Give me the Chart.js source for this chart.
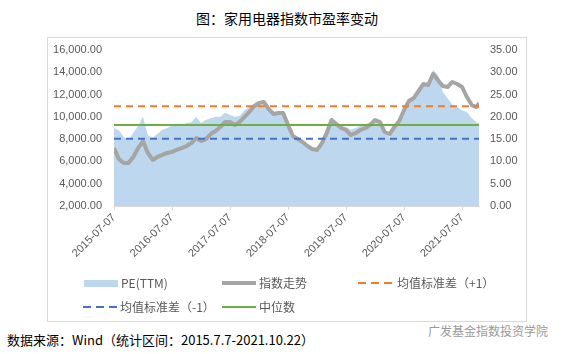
<!DOCTYPE html>
<html>
<head>
<meta charset="utf-8">
<script src="https://cdn.jsdelivr.net/npm/chart.js@4/dist/chart.umd.min.js"></script>
<style>
body { margin: 0; width: 565px; height: 354px; background: #fff; position: relative; overflow: hidden; font-family: "Noto Sans CJK SC", sans-serif; }
#frame { position: absolute; left: 47px; top: 37px; width: 478px; height: 283px; border: 1px solid #D9D9D9; }
#chart { position: absolute; left: 0; top: 0; }
.title { position: absolute; left: 196px; top: 8px; font-size: 14px; color: #000; white-space: nowrap; }
.source { position: absolute; left: 7px; top: 330px; font-size: 13px; color: #000; white-space: nowrap; }
.mark { position: absolute; left: 428px; top: 322px; font-size: 12px; color: #9a9a9a; white-space: nowrap; }
.sw { position: absolute; }
.lt { position: absolute; font-size: 12px; color: #595959; white-space: nowrap; line-height: 16px; }
</style>
</head>
<body>
<div id="frame"></div>
<div class="title">图：家用电器指数市盈率变动</div>
<canvas id="chart" width="565" height="280"></canvas>

<!-- 图例 -->
<div class="sw" style="left:84px;top:280px;width:34px;height:7px;background:#BDD7EE"></div>
<div class="lt" style="left:121px;top:275px">PE(TTM)</div>
<div class="sw" style="left:222px;top:281px;width:34px;height:4px;background:#A5A5A5"></div>
<div class="lt" style="left:259px;top:275px">指数走势</div>
<div class="sw" style="left:358px;top:282px;width:36px;height:2px;background:repeating-linear-gradient(90deg,#ED7D31 0 8px,transparent 8px 13px)"></div>
<div class="lt" style="left:397px;top:275px">均值标准差（+1）</div>
<div class="sw" style="left:83px;top:306px;width:36px;height:2px;background:repeating-linear-gradient(90deg,#4472C4 0 8px,transparent 8px 13px)"></div>
<div class="lt" style="left:120px;top:299px">均值标准差（-1）</div>
<div class="sw" style="left:222px;top:306px;width:34px;height:2px;background:#70AD47"></div>
<div class="lt" style="left:259px;top:299px">中位数</div>

<div class="mark">广发基金指数投资学院</div>
<div class="source">数据来源：Wind（统计区间：2015.7.7-2021.10.22）</div>

<script>
// 日期（每月取一个点）
const dates = [
  '2015-07-07','2015-08-07','2015-09-07','2015-10-07','2015-11-07','2015-12-07',
  '2016-01-07','2016-02-07','2016-03-07','2016-04-07','2016-05-07','2016-06-07',
  '2016-07-07','2016-08-07','2016-09-07','2016-10-07','2016-11-07','2016-12-07',
  '2017-01-07','2017-02-07','2017-03-07','2017-04-07','2017-05-07','2017-06-07',
  '2017-07-07','2017-08-07','2017-09-07','2017-10-07','2017-11-07','2017-12-07',
  '2018-01-07','2018-02-07','2018-03-07','2018-04-07','2018-05-07','2018-06-07',
  '2018-07-07','2018-08-07','2018-09-07','2018-10-07','2018-11-07','2018-12-07',
  '2019-01-07','2019-02-07','2019-03-07','2019-04-07','2019-05-07','2019-06-07',
  '2019-07-07','2019-08-07','2019-09-07','2019-10-07','2019-11-07','2019-12-07',
  '2020-01-07','2020-02-07','2020-03-07','2020-04-07','2020-05-07','2020-06-07',
  '2020-07-07','2020-08-07','2020-09-07','2020-10-07','2020-11-07','2020-12-07',
  '2021-01-07','2021-02-07','2021-03-07','2021-04-07','2021-05-07','2021-06-07',
  '2021-07-07','2021-08-07','2021-09-07','2021-10-07','2021-10-22'
];

// 指数走势（左轴）
const indexValues = [
  7200, 6220, 5860, 5860, 6400, 7200, 7830, 6760, 6130, 6400, 6580, 6760,
  6850, 7030, 7200, 7380, 7650, 8100, 7830, 8010, 8460, 8730, 9090, 9540,
  9540, 9270, 9540, 9990, 10440, 10970, 11240, 11330, 10700, 10260, 10350, 10350,
  9270, 8280, 8010, 7740, 7380, 7120, 7030, 7650, 8550, 9720, 9360, 9000,
  8820, 8370, 8550, 8820, 9000, 9270, 9720, 9540, 8640, 8460, 9090, 9630,
  10620, 11420, 11690, 12320, 12950, 12860, 13850, 13310, 12770, 12680, 13130, 12950,
  12680, 11780, 11060, 10880, 11240
];

// PE(TTM)（右轴）
const peValues = [
  17.5, 17.0, 15.5, 14.8, 16.4, 18.0, 20.0, 15.9, 15.3, 16.2, 17.1, 17.5,
  18.0, 18.2, 18.2, 18.6, 18.8, 20.0, 18.6, 19.3, 19.7, 20.0, 20.0, 20.9,
  20.4, 20.0, 20.2, 21.5, 22.2, 22.6, 22.8, 22.2, 21.5, 20.6, 21.1, 20.9,
  18.0, 15.3, 14.8, 14.1, 13.5, 12.8, 12.6, 14.8, 17.5, 19.7, 18.4, 18.0,
  17.7, 17.1, 17.5, 18.0, 18.4, 18.8, 19.5, 19.1, 16.6, 15.5, 18.0, 19.5,
  21.5, 23.6, 24.5, 26.0, 27.4, 27.8, 30.5, 29.4, 25.6, 24.2, 22.7, 22.2,
  21.5, 21.1, 19.7, 18.8, 18.5
];

// 均值±标准差、中位数（右轴）
const peUpper = 22.4;
const peLower = 15.1;
const peMedian = 18.2;

// 横轴刻度
const tickLabels = ['2015-07-07','2016-07-07','2017-07-07','2018-07-07','2019-07-07','2020-07-07','2021-07-07'];

// 日期 -> 距 2015-07-07 的月数
function monthPos(s) {
  const [y, m, d] = s.split('-').map(Number);
  return (y - 2015) * 12 + (m - 7) + (d - 7) / 30;
}
const xs = dates.map(monthPos);
const xMax = xs[xs.length - 1];
const tickPos = tickLabels.map(monthPos);

const flat = v => [{ x: 0, y: v }, { x: xMax, y: v }];
const tickFont = { family: 'Liberation Sans', size: 11 };

new Chart(document.getElementById('chart'), {
  type: 'line',
  data: {
    datasets: [
      {
        label: 'PE(TTM)',
        data: xs.map((x, i) => ({ x, y: peValues[i] })),
        yAxisID: 'y1',
        backgroundColor: '#BDD7EE',
        borderWidth: 0,
        fill: 'origin',
        pointRadius: 0,
        order: 5,
      },
      {
        label: '指数走势',
        data: xs.map((x, i) => ({ x, y: indexValues[i] })),
        yAxisID: 'y',
        borderColor: '#A5A5A5',
        borderWidth: 4,
        borderJoinStyle: 'round',
        pointRadius: 0,
        order: 4,
      },
      {
        label: '均值标准差（+1）',
        data: flat(peUpper),
        yAxisID: 'y1',
        borderColor: '#ED7D31',
        borderWidth: 2,
        borderDash: [7, 5],
        pointRadius: 0,
        order: 3,
      },
      {
        label: '均值标准差（-1）',
        data: flat(peLower),
        yAxisID: 'y1',
        borderColor: '#4472C4',
        borderWidth: 2,
        borderDash: [7, 5],
        pointRadius: 0,
        order: 2,
      },
      {
        label: '中位数',
        data: flat(peMedian),
        yAxisID: 'y1',
        borderColor: '#70AD47',
        borderWidth: 2,
        pointRadius: 0,
        order: 1,
      },
    ],
  },
  options: {
    responsive: false,
    animation: false,
    layout: { padding: { left: 0, right: 0, top: 50, bottom: 0 } },
    plugins: { legend: { display: false }, tooltip: { enabled: false } },
    scales: {
      x: {
        type: 'linear',
        min: 0,
        max: xMax,
        afterBuildTicks: s => { s.ticks = tickPos.map(v => ({ value: v })); },
        afterFit: s => { s.height = 74; },
        ticks: {
          autoSkip: false,
          minRotation: 45,
          maxRotation: 45,
          padding: 1,
          color: '#595959',
          font: tickFont,
          callback: (v, i) => tickLabels[i],
        },
        grid: { display: true, drawOnChartArea: false, drawTicks: true, tickLength: 4, color: '#D9D9D9' },
        border: { color: '#D9D9D9' },
      },
      y: {
        position: 'left',
        min: 2000,
        max: 16000,
        afterFit: s => { s.width = 114; },
        ticks: {
          stepSize: 2000,
          padding: 12,
          color: '#595959',
          font: tickFont,
          callback: v => v.toLocaleString('en-US', { minimumFractionDigits: 2, maximumFractionDigits: 2 }),
        },
        grid: { display: false, drawTicks: false },
        border: { display: false },
      },
      y1: {
        position: 'right',
        min: 0,
        max: 35,
        afterFit: s => { s.width = 86; },
        ticks: {
          stepSize: 5,
          padding: 11,
          color: '#595959',
          font: tickFont,
          callback: v => v.toFixed(2),
        },
        grid: { display: false, drawTicks: false },
        border: { display: false },
      },
    },
  },
});
</script>
</body>
</html>
